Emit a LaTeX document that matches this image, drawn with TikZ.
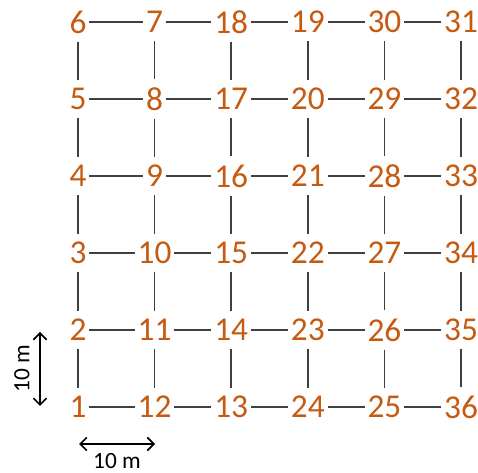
\documentclass[tikz,border=0pt]{standalone}
\usepackage{fontspec}
\setmainfont{Carlito}
\usepackage{xcolor}
\usetikzlibrary{arrows.meta, positioning, calc}
\definecolor{ptorange}{HTML}{C55A11}
\tikzset{
  gridpt/.style={text=ptorange, font=\fontsize{25}{25}\selectfont,
                 inner xsep=2pt, inner ysep=6pt},
  link/.style={draw=black!75, line width=1.1pt},
  scalearrow/.style={{Straight Barb[length=5pt,width=10pt]}-{Straight Barb[length=5pt,width=10pt]},
                     line width=1.2pt},
  scalelabel/.style={font=\fontsize{17.5}{17.5}\selectfont, inner sep=0.5pt}
}

\begin{document}
\begin{tikzpicture}[x=0.75pt, y=-0.75pt]
  \useasboundingbox (0,0) rectangle (478,473);

  % sampling points, numbered in a serpentine order
  \foreach \c in {0,...,5} {
    \foreach \r in {0,...,5} {
      \pgfmathtruncatemacro{\num}{mod(\c,2)==1 ? 6*\c+6-\r : 6*\c+\r+1}
      \node[gridpt] (g-\c-\r) at ({78+76.6*\c}, {407-77*\r}) {\num};
    }
  }

  % grid links
  \foreach \c in {0,...,5}
    \foreach \r [count=\s from 1] in {0,...,4}
      \draw[link] (g-\c-\r) -- (g-\c-\s);
  \foreach \r in {0,...,5}
    \foreach \c [count=\s from 1] in {0,...,4}
      \draw[link] (g-\c-\r) -- (g-\s-\r);

  % scale bars
  \coordinate (vtop) at (40,332);
  \coordinate (vbot) at (40,406);
  \coordinate (hleft) at (79,444);
  \coordinate (hright) at (155,444);
  \draw[scalearrow] (vtop) -- (vbot);
  \draw[scalearrow] (hleft) -- (hright);
  \node[scalelabel, rotate=90] (vlab) at (22,369) {10 m};
  \node[scalelabel] (hlab) at (117,461) {10 m};
\end{tikzpicture}
\end{document}
